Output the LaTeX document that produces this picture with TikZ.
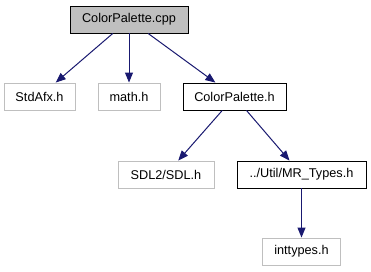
\documentclass[tikz,border=0pt]{standalone}
\usepackage{fontspec}
\setmainfont{Liberation Sans}
\usetikzlibrary{arrows.meta}

\definecolor{edgeblue}{HTML}{191970}
\definecolor{boxgray}{HTML}{BFBFBF}

\begin{document}
\begin{tikzpicture}[x=1pt, y=-1pt,
    file/.style={draw=black, line width=0.9pt, minimum height=27pt, inner sep=0pt,
                 font=\fontsize{12.7}{15}\selectfont},
    sysfile/.style={file, draw=boxgray},
    incl/.style={draw=edgeblue, line width=1pt, -{Triangle[length=10pt, width=8pt]}}]

    \useasboundingbox (0, 0) rectangle (371, 272);

    \node[file, fill=boxgray, minimum width=118pt] (cpp) at (129, 19.5) {ColorPalette.cpp};

    \node[sysfile, minimum width=71pt] (stdafx) at (39.5, 96.5) {StdAfx.h};
    \node[sysfile, minimum width=62pt] (math) at (129, 96.5) {math.h};
    \node[file, minimum width=103pt] (palh) at (234.5, 96.5) {ColorPalette.h};

    \node[sysfile, minimum width=96pt] (sdl) at (166, 174.5) {SDL2/SDL.h};
    \node[file, minimum width=129pt] (types) at (301.5, 174.5) {../Util/MR\_Types.h};

    \node[sysfile, minimum width=78pt] (inttypes) at (301.5, 251.5) {inttypes.h};

    \draw[incl] (cpp) -- (stdafx); % cpp - StdAfx.h
    \draw[incl] (cpp) -- (math); % cpp - math.h
    \draw[incl] (cpp) -- (palh); % cpp - ColorPalette.h

    \draw[incl] (palh) -- (sdl); % ColorPalette.h - SDL.h
    \draw[incl] (palh) -- (types); % ColorPalette.h - MR_Types.h

    \draw[incl] (types) -- (inttypes); % MR_Types.h - inttypes.h
\end{tikzpicture}
\end{document}
